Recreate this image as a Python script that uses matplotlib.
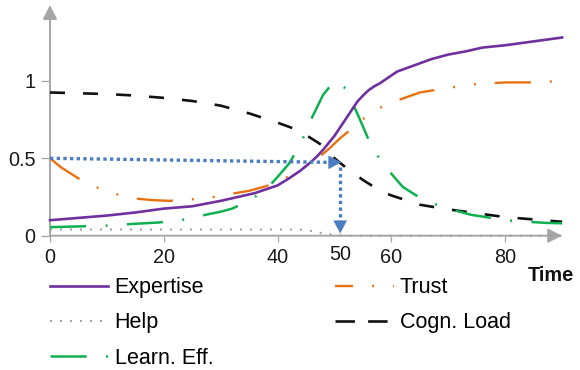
import matplotlib
matplotlib.use("Agg")
import matplotlib.pyplot as plt
from matplotlib.lines import Line2D

plt.rcParams['font.family'] = ['Liberation Sans', 'DejaVu Sans']
plt.rcParams['lines.scale_dashes'] = False

# ---- series data ----
expertise_x = [0, 5, 10, 15, 20, 25, 30, 33, 36, 38, 40, 42, 44, 46, 47, 48, 49, 50, 51, 52, 53,
               54, 55, 56, 57, 58, 61, 64, 67, 70, 73, 76, 80, 84, 88, 90]
expertise_y = [0.10, 0.115, 0.13, 0.15, 0.175, 0.19, 0.225, 0.25, 0.275, 0.30, 0.325, 0.37, 0.42,
               0.48, 0.515, 0.555, 0.60, 0.645, 0.70, 0.755, 0.81, 0.865, 0.905, 0.94, 0.965,
               0.985, 1.06, 1.10, 1.14, 1.17, 1.19, 1.215, 1.23, 1.25, 1.27, 1.28]

trust_x = [0, 2, 5, 8, 12, 15, 18, 21, 25, 28, 31, 35, 38, 41, 44, 47, 49, 51, 54, 56.5,
           60, 65, 70, 75, 80, 85, 90]
trust_y = [0.50, 0.44, 0.37, 0.315, 0.265, 0.24, 0.23, 0.225, 0.235, 0.245, 0.265, 0.29, 0.32,
           0.365, 0.425, 0.50, 0.56, 0.63, 0.72, 0.80, 0.86, 0.925, 0.955, 0.98, 0.99, 0.99, 1.0]

help_x = [0, 10, 20, 30, 40, 44, 46, 48, 50, 52, 60, 70, 80, 90]
help_y = [0.04, 0.04, 0.04, 0.04, 0.04, 0.04, 0.03, 0.015, 0.005, 0.0, 0.0, 0.0, 0.0, 0.0]

load_x = [0, 5, 10, 15, 20, 25, 30, 35, 40, 43, 45, 48, 50, 52, 55, 58, 60, 65, 70, 75, 80, 85, 90]
load_y = [0.925, 0.92, 0.915, 0.905, 0.89, 0.87, 0.84, 0.79, 0.73, 0.69, 0.65, 0.58, 0.50, 0.44,
          0.36, 0.29, 0.26, 0.20, 0.17, 0.145, 0.12, 0.105, 0.09]

learn_x = [0, 5, 10, 14, 19, 23, 26, 30, 32, 35, 38, 40, 42, 44, 46, 48, 50, 52, 54, 56, 58,
           60, 62, 65, 68, 71, 74, 77, 80, 84, 87, 90]
learn_y = [0.055, 0.06, 0.065, 0.075, 0.085, 0.10, 0.125, 0.155, 0.175, 0.225, 0.30, 0.38, 0.465,
           0.59, 0.76, 0.91, 1.00, 0.95, 0.79, 0.62, 0.49, 0.40, 0.315, 0.245, 0.20, 0.165, 0.135,
           0.118, 0.10, 0.09, 0.083, 0.08]

# threshold marker: expertise level 0.5 reached at time 51
mark_time = 51
mark_level = 0.5
mark_level_end = 0.474

x_ticks = [0, 20, 40, 60, 80]
y_ticks = [0, 0.5, 1]
y_tick_labels = ['0', '0.5', '1']
mark_label = '50'

labels = ['Expertise', 'Help', 'Learn. Eff.', 'Trust', 'Cogn. Load']

# ---- styles ----
C_EXP = '#7030A0'
C_TRUST = '#E8700F'
C_HELP = '#A0A0A0'
C_LOAD = '#111111'
C_LEARN = '#10B050'
C_MARK = '#4A7EC0'
C_AXIS = '#A6A6A6'

ls_trust = (0, (26, 13.7, 1.4, 13.7, 1.4, 13.7))
ls_learn = (0, (26, 14, 1.4, 14))
ls_load = (0, (10.8, 13))
ls_help = (0, (1.4, 5.8))

fig = plt.figure(figsize=(5.8, 3.7), dpi=100)
ax_left = 50 / 580
ax_bottom = (370 - 235.7) / 370
ax_w = (5.69 * 90) / 580
ax_h = (235.7 - 5) / 370
ax = fig.add_axes([ax_left, ax_bottom, ax_w, ax_h])
ax.set_xlim(0, 90)
ax.set_ylim(0, 1.49)
for s in ax.spines.values():
    s.set_visible(False)

# axis lines with arrow heads
arrow_kw = dict(arrowstyle='-|>,head_length=0.85,head_width=0.43', mutation_scale=10,
                color=C_AXIS, lw=1.4, shrinkA=0, shrinkB=0)
ax.annotate('', xy=(90, 0), xytext=(0, 0), xycoords='data', arrowprops=arrow_kw,
            annotation_clip=False)
ax.annotate('', xy=(0, 1.49), xytext=(0, 0), xycoords='data', arrowprops=arrow_kw,
            annotation_clip=False)

ax.set_xticks(x_ticks)
ax.set_xticklabels([str(t) for t in x_ticks])
ax.set_yticks(y_ticks)
ax.set_yticklabels(y_tick_labels)
ax.tick_params(axis='x', direction='out', length=4, width=0.9, color=C_AXIS, pad=5,
               labelsize=14.3, labelcolor='#1a1a1a')
ax.tick_params(axis='y', direction='out', length=6.5, width=0.9, color=C_AXIS, pad=3.8,
               labelsize=14.3, labelcolor='#1a1a1a')

# series
ax.plot(help_x, help_y, color=C_HELP, lw=1.5, linestyle=ls_help, clip_on=False, zorder=3)
ax.plot(load_x, load_y, color=C_LOAD, lw=1.9, linestyle=ls_load, clip_on=False, zorder=4)
ax.plot(learn_x, learn_y, color=C_LEARN, lw=1.8, linestyle=ls_learn, clip_on=False, zorder=4)
ax.plot(trust_x, trust_y, color=C_TRUST, lw=1.7, linestyle=ls_trust, clip_on=False, zorder=4)
ax.plot(expertise_x, expertise_y, color=C_EXP, lw=1.9, clip_on=False, zorder=5)

# threshold guide: horizontal then vertical dotted arrows
ax.plot([0, mark_time - 2.2], [mark_level, mark_level_end], color=C_MARK, lw=2.4,
        linestyle=(0, (2.4, 2.4)), clip_on=False, zorder=6)
ax.plot([mark_time, mark_time], [mark_level_end - 0.03, 0.09], color=C_MARK, lw=2.4,
        linestyle=(0, (2.4, 2.4)), clip_on=False, zorder=6)
head_kw = dict(arrowstyle='-|>,head_length=0.85,head_width=0.45', mutation_scale=10,
               color=C_MARK, lw=0.5, shrinkA=0, shrinkB=0)
ax.annotate('', xy=(mark_time + 0.2, mark_level_end), xytext=(mark_time - 2.0, mark_level_end),
            arrowprops=head_kw, annotation_clip=False, zorder=7)
ax.annotate('', xy=(mark_time, 0.015), xytext=(mark_time, 0.09),
            arrowprops=head_kw, annotation_clip=False, zorder=7)

ax.text(mark_time, -0.121, mark_label, ha='center', va='center', fontsize=14.3,
        color='#1a1a1a', clip_on=False)
ax.text(88.0, -0.255, 'Time', ha='center', va='center', fontsize=14.3,
        fontweight='bold', color='#111111', clip_on=False)

# legend proxies
handles = [
    Line2D([], [], color=C_EXP, lw=1.9),
    Line2D([], [], color=C_HELP, lw=1.5, linestyle=ls_help),
    Line2D([], [], color=C_LEARN, lw=1.8, linestyle=ls_learn),
    Line2D([], [], color=C_TRUST, lw=1.7, linestyle=(13, ls_trust[1])),
    Line2D([], [], color=C_LOAD, lw=1.9, linestyle=(0, (14, 9.5))),
]
ax.legend(handles, labels, ncol=2, loc='upper left', bbox_to_anchor=(50 / 580, 0.251),
          bbox_transform=fig.transFigure, frameon=False, fontsize=15.5,
          handlelength=2.7, handletextpad=0.3, columnspacing=5.67, labelspacing=0.66,
          borderpad=0, borderaxespad=0)

fig.savefig('out.png', dpi=100)
